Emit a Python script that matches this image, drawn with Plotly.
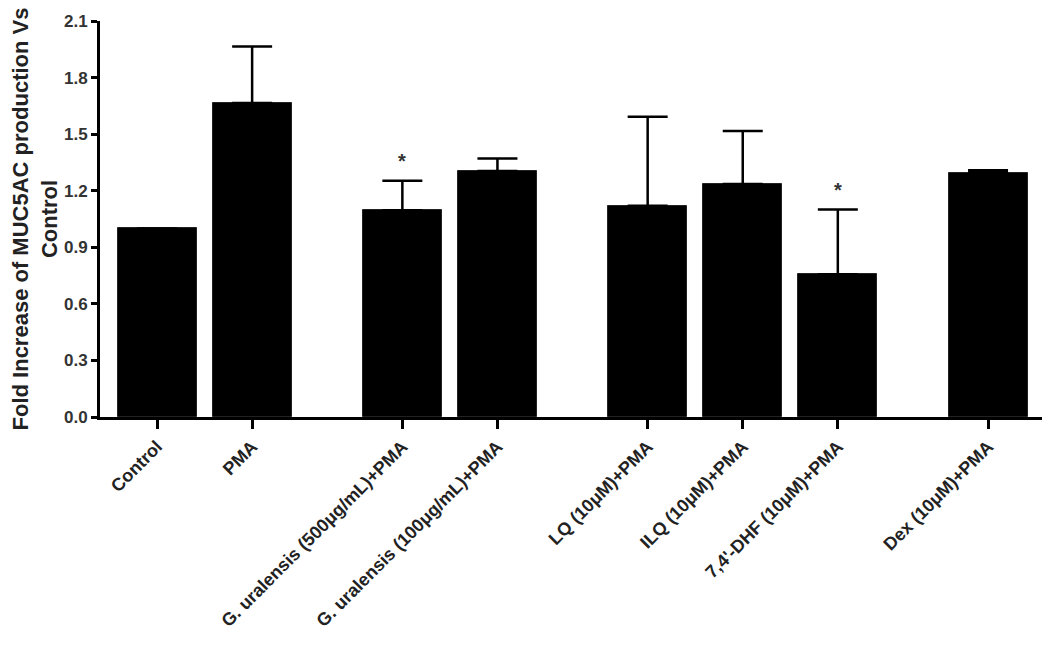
import plotly.graph_objects as go

categories = ["Control", "PMA", "G. uralensis (500μg/mL)+PMA", "G. uralensis (100μg/mL)+PMA",
              "LQ (10μM)+PMA", "ILQ (10μM)+PMA", "7,4'-DHF (10μM)+PMA", "Dex (10μM)+PMA"]
groups = [0, 0, 1, 1, 2, 2, 2, 3]
values = [1.0, 1.665, 1.096, 1.305, 1.12, 1.236, 0.757, 1.296]
errors = [0.0, 0.30, 0.157, 0.066, 0.472, 0.281, 0.343, 0.012]
significant = [False, False, True, False, False, False, True, False]
y_ticks = [0.0, 0.3, 0.6, 0.9, 1.2, 1.5, 1.8, 2.1]

GAP = 0.58
xpos = [i + g * GAP for i, g in enumerate(groups)]

FONT = "Liberation Sans, Arial, sans-serif"

fig = go.Figure()
fig.add_trace(go.Bar(
    x=xpos, y=values, width=0.83,
    marker=dict(color="black", line=dict(color="#222", width=1)),
    error_y=dict(type="data", symmetric=False, array=errors, arrayminus=[0] * len(errors),
                 color="black", thickness=2.5, width=20, visible=True),
    showlegend=False,
))

for x, v, e, s in zip(xpos, values, errors, significant):
    if s:
        fig.add_annotation(x=x, y=v + e, text="*", showarrow=False, yshift=20,
                           font=dict(family=FONT, size=20, color="#333", weight="bold"))

fig.update_layout(
    width=1042, height=643,
    margin=dict(l=92, r=3, t=13, b=234, autoexpand=False),
    plot_bgcolor="white", paper_bgcolor="white",
    font=dict(family=FONT, color="#222"),
    bargap=0,
)
fig.update_xaxes(
    range=[-0.6, xpos[-1] + 0.62],
    tickvals=xpos, ticktext=categories, tickangle=-45,
    tickfont=dict(family=FONT, size=18, color="#222", weight="bold"),
    showline=True, linecolor="black", linewidth=3,
    ticks="outside", ticklen=9, tickwidth=3, tickcolor="black",
    showgrid=False, zeroline=False, automargin=False,
)
fig.update_yaxes(
    range=[0, 2.1], tickvals=y_ticks, ticktext=[f"{t:.1f}" for t in y_ticks],
    tickfont=dict(family=FONT, size=17, color="#333", weight="bold"),
    showline=True, linecolor="black", linewidth=3,
    ticks="outside", ticklen=6, tickwidth=3, tickcolor="black",
    showgrid=False, zeroline=False, automargin=False,
    title=dict(text="Fold Increase of MUC5AC production Vs<br>Control",
               font=dict(family=FONT, size=22, color="#222", weight="bold"), standoff=6),
)

fig.write_html("out.html")
